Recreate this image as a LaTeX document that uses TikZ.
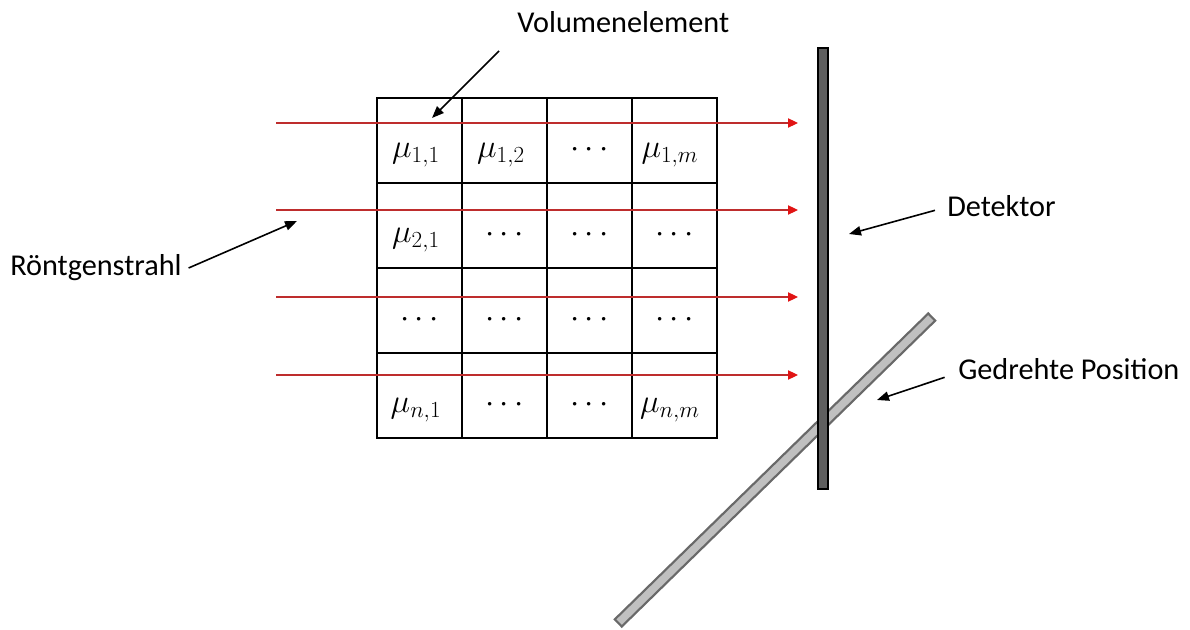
\documentclass[tikz,border=0pt]{standalone}
\usepackage[no-math]{fontspec}
\setmainfont{Carlito}
\usepackage{tikz}
\usetikzlibrary{arrows.meta}
\definecolor{rayred}{RGB}{190,45,45}
\definecolor{tipred}{RGB}{225,20,20}
\definecolor{detgray}{RGB}{95,95,95}
\definecolor{rotgray}{RGB}{192,192,192}
\definecolor{rotedge}{RGB}{105,105,105}

\begin{document}
\begin{tikzpicture}[x=0.75pt,y=0.75pt,
    font=\fontsize{22.7}{27}\selectfont,
    ray/.style={rayred,line width=0.8pt,-{Triangle[length=7.5pt,width=7pt,color=tipred]}},
    callout/.style={line width=1.2pt,-{Triangle[length=9pt,width=7pt]}},
    lbl/.style={inner sep=0pt,anchor=base west},
    cell/.style={inner sep=0pt,anchor=base,font=\fontsize{24.5}{29}\selectfont}]
  \useasboundingbox (0,0) rectangle (1190,629);

  % Rotated detector position (behind)
  \draw[rotedge,fill=rotgray,line width=1.6pt,rotate around={44.3:(775,159)}]
    (556,154) rectangle (994,164);

  % Detector
  \draw[line width=1.6pt,fill=detgray] (818,140) rectangle (828,581);

  % Grid of volume elements
  \draw[line width=1.1pt] (377,191) rectangle (717,531);
  \foreach \k in {1,2,3} {
    \draw[line width=1.1pt] (377+85*\k,191) -- (377+85*\k,531);
    \draw[line width=1.1pt] (377,191+85*\k) -- (717,191+85*\k);
  }

  % Attenuation coefficients
  \node[cell] (m11) at (416,471) {$\mu_{1,1}$};
  \node[cell] (m12) at (501,471) {$\mu_{1,2}$};
  \node[cell] (m13) at (589.5,471) {$\cdots$};
  \node[cell] (m14) at (670,471) {$\mu_{1,m}$};

  \node[cell] (m21) at (416,386) {$\mu_{2,1}$};
  \node[cell] (m22) at (504.5,386) {$\cdots$};
  \node[cell] (m23) at (589.5,386) {$\cdots$};
  \node[cell] (m24) at (674.5,386) {$\cdots$};

  \node[cell] (m31) at (419.5,301) {$\cdots$};
  \node[cell] (m32) at (504.5,301) {$\cdots$};
  \node[cell] (m33) at (589.5,301) {$\cdots$};
  \node[cell] (m34) at (674.5,301) {$\cdots$};

  \node[cell] (m41) at (416,216) {$\mu_{n,1}$};
  \node[cell] (m42) at (504.5,216) {$\cdots$};
  \node[cell] (m43) at (589.5,216) {$\cdots$};
  \node[cell] (m44) at (670,216) {$\mu_{n,m}$};

  % X-ray beams
  \foreach \y [count=\r] in {506,419,332,254} {
    \coordinate (src\r) at (276,\y);
    \coordinate (hit\r) at (798,\y);
    \draw[ray] (src\r) -- (hit\r);
  }

  % Labels
  \node[lbl] (vol) at (517,596) {Volumenelement};
  \node[lbl] (xray) at (10,353) {Röntgenstrahl};
  \node[lbl] (det) at (947,412) {Detektor};
  \node[lbl] (rot) at (958,249) {Gedrehte Position};

  % Callout arrows
  \coordinate (vol-from) at (499,578);
  \coordinate (vol-to) at (432,511);
  \draw[callout] (vol-from) -- (vol-to);

  \coordinate (xray-to) at (297,408);
  \draw[callout] ([xshift=5pt,yshift=6pt]xray.base east) -- (xray-to);

  \coordinate (det-to) at (849,395);
  \draw[callout] ([xshift=-9pt,yshift=5pt]det.base west) -- (det-to);

  \coordinate (rot-to) at (877,229);
  \draw[callout] ([xshift=-10pt,yshift=2pt]rot.base west) -- (rot-to);
\end{tikzpicture}
\end{document}
